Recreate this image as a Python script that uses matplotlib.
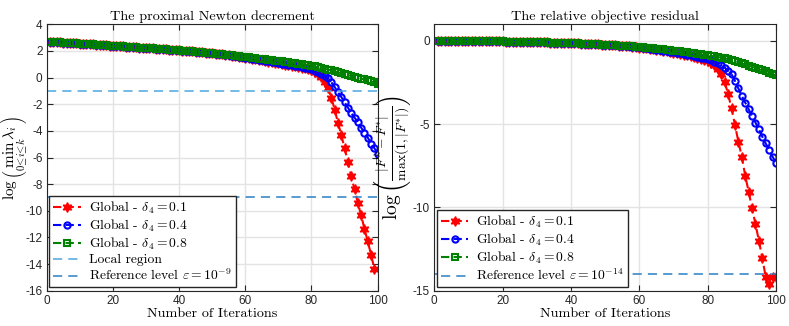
import matplotlib
matplotlib.use("Agg")
import matplotlib.pyplot as plt
import numpy as np

# ---------------- data ----------------
iters = list(range(1, 101))

# Left panel: log(min lambda_i) -- shared early part (iterations 1..55)
dec_shared = [2.65, 2.66, 2.66, 2.65, 2.63, 2.61, 2.60, 2.59, 2.57, 2.56,
              2.55, 2.53, 2.52, 2.50, 2.48, 2.47, 2.45, 2.43, 2.41, 2.38,
              2.37, 2.36, 2.34, 2.33, 2.31, 2.29, 2.28, 2.26, 2.24, 2.22,
              2.21, 2.19, 2.17, 2.16, 2.14, 2.12, 2.10, 2.09, 2.07, 2.05,
              2.03, 2.01, 1.99, 1.97, 1.95, 1.92, 1.90, 1.87, 1.85, 1.82,
              1.80, 1.77, 1.75, 1.72, 1.69]
dec_red_tail = [1.65, 1.61, 1.57, 1.53, 1.49,
                1.45, 1.41, 1.37, 1.33, 1.29, 1.25, 1.21, 1.17, 1.12, 1.07,
                1.00, 0.96, 0.92, 0.88, 0.84, 0.80, 0.75, 0.70, 0.63, 0.55,
                0.45, 0.30, 0.08, -0.30, -0.80, -1.50, -2.40, -3.40, -4.30, -5.30,
                -6.35, -7.40, -8.40, -9.40, -10.35, -11.35, -12.30, -13.30, -14.35]
dec_blue_tail = [1.66, 1.62, 1.58, 1.54, 1.50,
                 1.46, 1.42, 1.38, 1.34, 1.30, 1.26, 1.22, 1.18, 1.14, 1.10,
                 1.06, 1.02, 0.98, 0.94, 0.90, 0.85, 0.80, 0.75, 0.69, 0.62,
                 0.52, 0.42, 0.30, 0.15, -0.05, -0.35, -0.70, -1.10, -1.45, -1.85,
                 -2.25, -2.65, -3.00, -3.35, -3.75, -4.15, -4.50, -4.95, -5.30, -5.70]
dec_green_tail = [1.67, 1.64, 1.61, 1.58, 1.55,
                  1.52, 1.49, 1.46, 1.43, 1.40, 1.37, 1.34, 1.31, 1.28, 1.25,
                  1.22, 1.19, 1.16, 1.12, 1.09, 1.05, 1.01, 0.97, 0.93, 0.89,
                  0.84, 0.78, 0.72, 0.66, 0.60, 0.54, 0.47, 0.40, 0.33, 0.25,
                  0.19, 0.13, 0.07, 0.00, -0.07, -0.14, -0.21, -0.28, -0.36, -0.45]

# Right panel: relative objective residual -- shared early part (1..55)
res_shared = [0.00, 0.01, 0.01, 0.00, 0.00, -0.01, 0.00, 0.00, -0.01, -0.01,
              -0.01, -0.01, -0.01, -0.02, -0.02, -0.02, -0.02, -0.03, -0.03, -0.03,
              -0.04, -0.04, -0.05, -0.05, -0.05, -0.06, -0.06, -0.07, -0.07, -0.08,
              -0.08, -0.09, -0.09, -0.10, -0.10, -0.11, -0.12, -0.12, -0.13, -0.14,
              -0.14, -0.15, -0.16, -0.17, -0.18, -0.19, -0.20, -0.21, -0.22, -0.23,
              -0.24, -0.25, -0.27, -0.28, -0.29]
res_red_tail = [-0.31, -0.33, -0.35, -0.37, -0.40,
                -0.42, -0.45, -0.47, -0.50, -0.53, -0.56, -0.59, -0.62, -0.66, -0.70,
                -0.74, -0.78, -0.82, -0.87, -0.92, -0.97, -1.02, -1.08, -1.14, -1.20,
                -1.30, -1.45, -1.70, -2.00, -2.46, -3.20, -4.05, -5.05, -6.05, -6.95,
                -8.10, -9.05, -10.05, -11.00, -12.00, -13.05, -14.17, -14.60, -14.20, -14.15]
res_blue_tail = [-0.31, -0.33, -0.35, -0.37, -0.39,
                 -0.41, -0.44, -0.46, -0.49, -0.52, -0.55, -0.58, -0.61, -0.64, -0.68,
                 -0.71, -0.75, -0.79, -0.83, -0.87, -0.91, -0.95, -1.00, -1.05, -1.10,
                 -1.16, -1.24, -1.33, -1.45, -1.60, -1.78, -2.00, -2.40, -2.85, -3.30,
                 -3.70, -4.10, -4.50, -4.90, -5.30, -5.75, -6.15, -6.55, -6.95, -7.30]
res_green_tail = [-0.30, -0.31, -0.33, -0.34, -0.36,
                  -0.38, -0.40, -0.42, -0.44, -0.46, -0.48, -0.50, -0.52, -0.55, -0.58,
                  -0.60, -0.63, -0.66, -0.68, -0.71, -0.74, -0.77, -0.80, -0.83, -0.86,
                  -0.89, -0.92, -0.96, -1.00, -1.04, -1.09, -1.14, -1.20, -1.27, -1.34,
                  -1.41, -1.48, -1.55, -1.62, -1.69, -1.76, -1.83, -1.90, -1.98, -2.07]

local_region = -1
ref_level_left = -9
ref_level_right = -14

series_labels = [r"Global - $\delta_4 = 0.1$", r"Global - $\delta_4 = 0.4$",
                 r"Global - $\delta_4 = 0.8$"]
left_title = "The proximal Newton decrement"
right_title = "The relative objective residual"
xlabel = "Number of Iterations"
left_yticks = [-16, -14, -12, -10, -8, -6, -4, -2, 0, 2, 4]
right_yticks = [-15, -10, -5, 0]
xticks = [0, 20, 40, 60, 80, 100]

# ---------------- style ----------------
plt.rcParams['mathtext.fontset'] = 'cm'
plt.rcParams['axes.unicode_minus'] = False
plt.rcParams['axes.formatter.use_mathtext'] = True
serif = ['cmr10', 'DejaVu Serif']
tickfont = 'Liberation Sans'

red, blue, green = '#ff0000', '#0000ff', '#008000'
c_local = '#4da6e0'
c_ref = '#2a7fc4'

fig = plt.figure(figsize=(7.89, 3.26), dpi=100)
axL = fig.add_axes([0.0592, 0.1083, 0.4195, 0.817])
axR = fig.add_axes([0.5504, 0.1083, 0.4331, 0.817])

star = (6, 1, 0)
styles = [dict(color=red, marker=star, ms=7, mfc=red, mec=red, mew=1.0),
          dict(color=blue, marker='o', ms=4.5, mfc='none', mec=blue, mew=1.5),
          dict(color=green, marker='s', ms=4, mfc='none', mec=green, mew=1.5)]


def style_axes(ax, yticks, ylim):
    ax.set_xlim(0, 100)
    ax.set_ylim(*ylim)
    ax.set_xticks(xticks)
    ax.set_yticks(yticks)
    ax.set_xticklabels([str(t) for t in xticks], fontfamily=tickfont, fontsize=8.5,
                       color='#262626')
    ax.set_yticklabels([str(t) for t in yticks], fontfamily=tickfont, fontsize=8.5,
                       color='#262626')
    ax.grid(True, color='#e3e3e3', linewidth=1)
    ax.set_axisbelow(True)
    ax.tick_params(direction='in', length=4, top=True, right=True, width=0.8,
                   color='#262626', pad=3)
    for s in ax.spines.values():
        s.set_color('#262626')
        s.set_linewidth(0.8)
    ax.set_xlabel(xlabel, fontfamily=serif, fontsize=10.2, labelpad=1)


leg_kw = dict(loc='lower left', bbox_to_anchor=(0.008, 0.012),
              borderaxespad=0, fancybox=False, edgecolor='#262626', framealpha=1,
              prop={'family': serif, 'size': 9.8}, handlelength=2.0,
              labelspacing=0.12, borderpad=0.3, handletextpad=0.6)

# Left
left_red = dec_shared + dec_red_tail
left_blue = dec_shared + dec_blue_tail
left_green = dec_shared + dec_green_tail
hL = []
for ys, st, lab in zip([left_red, left_blue, left_green], styles, series_labels):
    h, = axL.plot(iters[:len(ys)], ys, linestyle='--', linewidth=1.5, label=lab,
                  dashes=(4, 2), **st)
    hL.append(h)
h4 = axL.axhline(local_region, color=c_local, linestyle='--', linewidth=1.1,
                 dashes=(6, 4), label='Local region')
h5 = axL.axhline(ref_level_left, color=c_ref, linestyle='--', linewidth=1.1,
                 dashes=(6, 4), label=r'Reference level $\varepsilon = 10^{-9}$')
style_axes(axL, left_yticks, (-16, 4))
axL.set_title(left_title, fontfamily=serif, fontsize=10.2, pad=3)
axL.set_ylabel(r"$\log\left(\min_{0\leq i\leq k}\lambda_i\right)$", fontsize=11)
axL.yaxis.set_label_coords(-0.05, 0.5)
legL = axL.legend(handles=hL + [h4, h5], **leg_kw)
legL.get_frame().set_linewidth(1.0)

# Right
right_red = res_shared + res_red_tail
right_blue = res_shared + res_blue_tail
right_green = res_shared + res_green_tail
hR = []
for ys, st, lab in zip([right_red, right_blue, right_green], styles, series_labels):
    h, = axR.plot(iters[:len(ys)], ys, linestyle='--', linewidth=1.5, label=lab,
                  dashes=(4, 2), **st)
    hR.append(h)
h6 = axR.axhline(ref_level_right, color=c_ref, linestyle='--', linewidth=1.1,
                 dashes=(6, 4), label=r'Reference level $\varepsilon = 10^{-14}$')
style_axes(axR, right_yticks, (-15, 1))
axR.set_title(right_title, fontfamily=serif, fontsize=10.2, pad=3)
axR.set_ylabel(r"$\log\left(\frac{|F^k - F^{*}|}{\max(1,|F^{*}|)}\right)$", fontsize=14)
axR.yaxis.set_label_coords(-0.062, 0.5)
legR = axR.legend(handles=hR + [h6], **leg_kw)
legR.get_frame().set_linewidth(1.0)

fig.savefig('out.png', dpi=100)
